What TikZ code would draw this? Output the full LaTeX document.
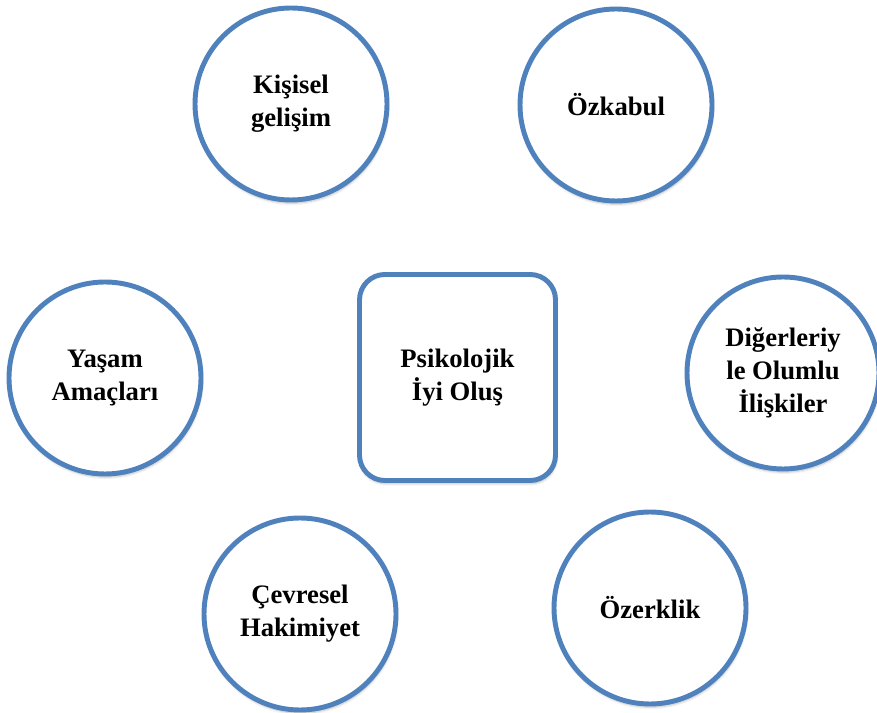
\documentclass[tikz,border=0pt]{standalone}
\usepackage{fontspec}
\setmainfont{Liberation Serif}
\usetikzlibrary{shadows.blur}

\definecolor{ringblue}{HTML}{4F81BD}
\tikzset{
  dim/.style={circle, draw=ringblue, line width=3.7pt, fill=white,
    minimum size=144pt, inner sep=0pt, align=center,
    font=\fontsize{20}{24.75}\selectfont\bfseries,
    blur shadow={shadow xshift=0.6pt, shadow yshift=-2.4pt,
      shadow blur steps=6, shadow opacity=25}},
  core/.style={rectangle, rounded corners=19pt, draw=ringblue,
    line width=3.7pt, fill=white, minimum width=147pt,
    minimum height=154.5pt, inner sep=0pt, align=center,
    font=\fontsize{20}{24.75}\selectfont\bfseries,
    blur shadow={shadow xshift=0.6pt, shadow yshift=-2.4pt,
      shadow blur steps=6, shadow opacity=25}}
}

\begin{document}
\begin{tikzpicture}[x=0.75pt, y=0.75pt]
    \useasboundingbox (0,0) rectangle (877,713);

    % Define nodes
    \node[core]	(center)	at (457.5,335.5)	{Psikolojik\\İyi Oluş};
    \node[dim]	(gelisim)	at (291,609)	{Kişisel\\gelişim};
    \node[dim]	(ozkabul)	at (616,608)	{Özkabul};
    \node[dim]	(amac)	at (105,335)	{Yaşam\\Amaçları};
    \node[dim]	(iliski)	at (783,340)	{Diğerleriy\\le Olumlu\\İlişkiler};
    \node[dim]	(hakim)	at (300,99)	{Çevresel\\Hakimiyet};
    \node[dim]	(ozerk)	at (650,105)	{Özerklik};
\end{tikzpicture}
\end{document}
